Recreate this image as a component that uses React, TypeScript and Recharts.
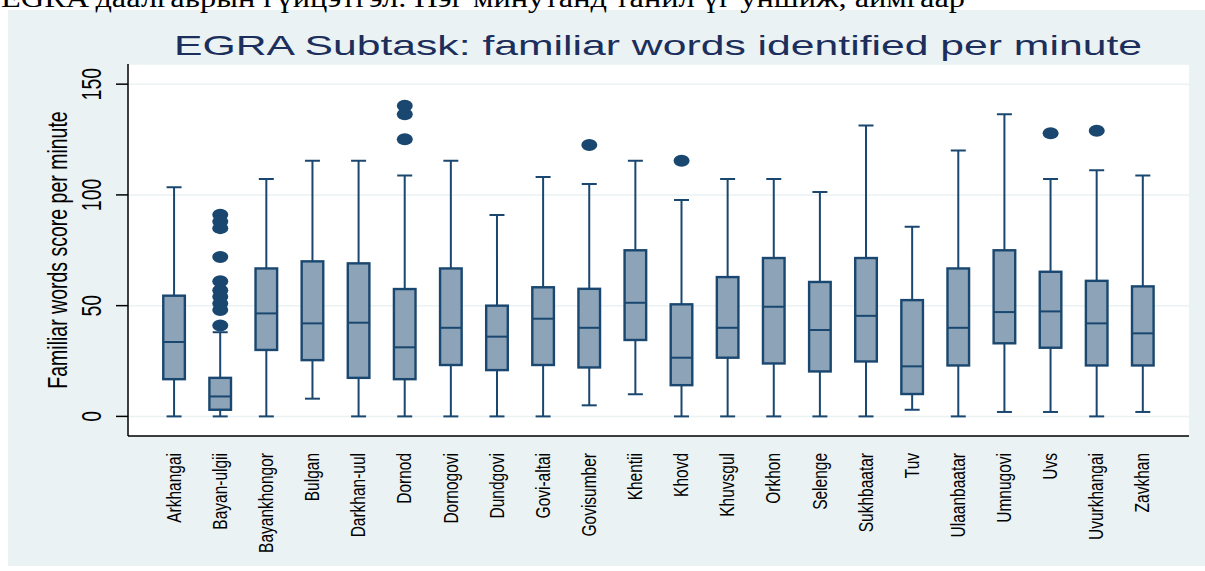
import { ComposedChart, Bar, Scatter, XAxis, YAxis, CartesianGrid } from "recharts";

const CATEGORIES = [
  "Arkhangai", "Bayan-ulgii", "Bayankhongor", "Bulgan", "Darkhan-uul", "Dornod",
  "Dornogovi", "Dundgovi", "Govi-altai", "Govisumber", "Khentii", "Khovd",
  "Khuvsgul", "Orkhon", "Selenge", "Sukhbaatar", "Tuv", "Ulaanbaatar",
  "Umnugovi", "Uvs", "Uvurkhangai", "Zavkhan",
];
const MINS = [0, 0, 0, 8, 0, 0, 0, 0, 0, 5, 10, 0, 0, 0, 0, 0, 3, 0, 2, 2, 0, 2];
const Q1S = [16.8, 3, 30, 25.4, 17.4, 16.8, 23.2, 20.9, 23.2, 22.1, 34.5, 14.1, 26.5, 23.9, 20.3, 24.8, 10.1, 23, 33, 31, 23, 23];
const MEDIANS = [33.6, 9, 46.5, 42, 42.3, 31.2, 40, 36, 44.1, 40, 51.3, 26.5, 40, 49.5, 39, 45.4, 22.6, 40, 47.1, 47.4, 42, 37.5];
const Q3S = [54.5, 17.4, 66.8, 70, 69.1, 57.5, 66.8, 50, 58.3, 57.6, 75, 50.6, 62.9, 71.5, 60.7, 71.5, 52.5, 66.8, 75, 65.3, 61.2, 58.7];
const MAXS = [103.5, 38, 107.2, 115.4, 115.4, 108.8, 115.4, 90.9, 108.1, 104.9, 115.4, 97.7, 107.2, 107.2, 101.3, 131.3, 85.6, 120, 136.4, 107.2, 111.1, 108.8];
const OUTLIERS: [string, number[]][] = [
  ["Bayan-ulgii", [91, 88, 85, 72, 61, 57, 54, 51, 48, 41]],
  ["Dornod", [140.2, 136.4, 125.1]],
  ["Govisumber", [122.5]],
  ["Khovd", [115.4]],
  ["Uvs", [127.8]],
  ["Uvurkhangai", [129]],
];
const Y_TICKS = [0, 50, 100, 150];

const HEADER = "EGRA даалгаврын гүйцэтгэл. Нэг минутанд танил үг уншиж, аймгаар";
const TITLE = "EGRA Subtask: familiar words identified per minute";
const Y_LABEL = "Familiar words score per minute";

const NAVY = "#1A476F";
const BOX_FILL = "#8CA3B8";
const BG = "#EAF2F3";

const rows = CATEGORIES.map((name, i) => ({
  idx: i,
  name,
  range: [MINS[i], MAXS[i]],
  min: MINS[i],
  q1: Q1S[i],
  median: MEDIANS[i],
  q3: Q3S[i],
  max: MAXS[i],
}));

const outlierRows = OUTLIERS.flatMap(([name, vals]) =>
  vals.map((v) => ({ idx: CATEGORIES.indexOf(name), val: v }))
);

// box drawn inside the [min, max] range bar
function BoxShape(props: any) {
  const { x, y, width, height, payload } = props;
  const { min, q1, median, q3, max } = payload;
  const k = height / (max - min);
  const py = (v: number) => y + (max - v) * k;
  const cx = x + width / 2;
  return (
    <g>
      <line x1={cx} x2={cx} y1={py(max)} y2={py(min)} stroke={NAVY} strokeWidth={2} />
      <line x1={cx - 7.5} x2={cx + 7.5} y1={py(max)} y2={py(max)} stroke={NAVY} strokeWidth={2} />
      <line x1={cx - 7.5} x2={cx + 7.5} y1={py(min)} y2={py(min)} stroke={NAVY} strokeWidth={2} />
      <rect x={x + 1.2} y={py(q3)} width={width - 2.4} height={py(q1) - py(q3)} fill={BOX_FILL} stroke={NAVY} strokeWidth={2.4} />
      <line x1={x + 1.2} x2={x + width - 1.2} y1={py(median)} y2={py(median)} stroke={NAVY} strokeWidth={2} />
    </g>
  );
}

function Dot(props: any) {
  const { cx, cy } = props;
  return <ellipse cx={cx} cy={cy} rx={8} ry={6} fill={NAVY} />;
}

function XTick(props: any) {
  const { x, y, payload } = props;
  return (
    <text
      transform={`translate(${x},${y + 9}) scale(1.25,1) rotate(-90)`}
      textAnchor="end"
      dominantBaseline="central"
      fontFamily="Liberation Sans, Arial, sans-serif"
      fontSize={15.5}
      fill="#000"
    >
      {CATEGORIES[payload.value]}
    </text>
  );
}

function YTick(props: any) {
  const { y, payload } = props;
  return (
    <text
      transform={`translate(92,${y}) scale(1.4,1) rotate(-90)`}
      textAnchor="middle"
      dominantBaseline="central"
      fontFamily="Liberation Sans, Arial, sans-serif"
      fontSize={19.5}
      fill="#000"
    >
      {payload.value}
    </text>
  );
}

export default function App() {
  return (
    <div style={{ position: "absolute", left: 0, top: 0, width: 1205, height: 571, background: "#fff", overflow: "hidden" }}>
      <div style={{ position: "absolute", left: 8, top: 10, width: 1197, height: 556, background: BG }} />
      <svg width={1205} height={571} style={{ position: "absolute", left: 0, top: 0 }}>
        <text x={1} y={7} fontFamily="Liberation Serif, Times New Roman, serif" fontSize={28} textLength={964} lengthAdjust="spacingAndGlyphs" fill="#000">
          {HEADER}
        </text>
        <text x={174} y={55} fontFamily="Liberation Sans, Arial, sans-serif" fontSize={28} textLength={968} lengthAdjust="spacingAndGlyphs" fill="#1C2E5B">
          {TITLE}
        </text>
        <text
          transform="translate(58,250) scale(1.4,1) rotate(-90)"
          textAnchor="middle"
          dominantBaseline="central"
          fontFamily="Liberation Sans, Arial, sans-serif"
          fontSize={19.5}
          fill="#000"
        >
          {Y_LABEL}
        </text>
      </svg>
      <div style={{ position: "absolute", left: 0, top: 0 }}>
        <ComposedChart width={1205} height={571} data={rows} margin={{ top: 64, right: 16, bottom: 0, left: 0 }}>
          <CartesianGrid vertical={false} stroke={BG} strokeWidth={1.5} fill="#fff" fillOpacity={1} />
          <XAxis
            dataKey="idx"
            type="number"
            domain={[-1, 22]}
            ticks={CATEGORIES.map((_, i) => i)}
            interval={0}
            height={135}
            tickLine={false}
            axisLine={{ stroke: "#000", strokeWidth: 1.5 }}
            tick={<XTick />}
            allowDecimals={false}
          />
          <YAxis
            type="number"
            domain={[-8.85, 159.1]}
            ticks={Y_TICKS}
            width={128}
            tickSize={12}
            tickLine={{ stroke: "#000", strokeWidth: 1.5 }}
            axisLine={{ stroke: "#000", strokeWidth: 1.5 }}
            tick={<YTick />}
            allowDataOverflow
          />
          <Bar dataKey="range" barSize={24} shape={<BoxShape />} isAnimationActive={false} />
          <Scatter data={outlierRows} dataKey="val" shape={<Dot />} isAnimationActive={false} />
        </ComposedChart>
      </div>
    </div>
  );
}
